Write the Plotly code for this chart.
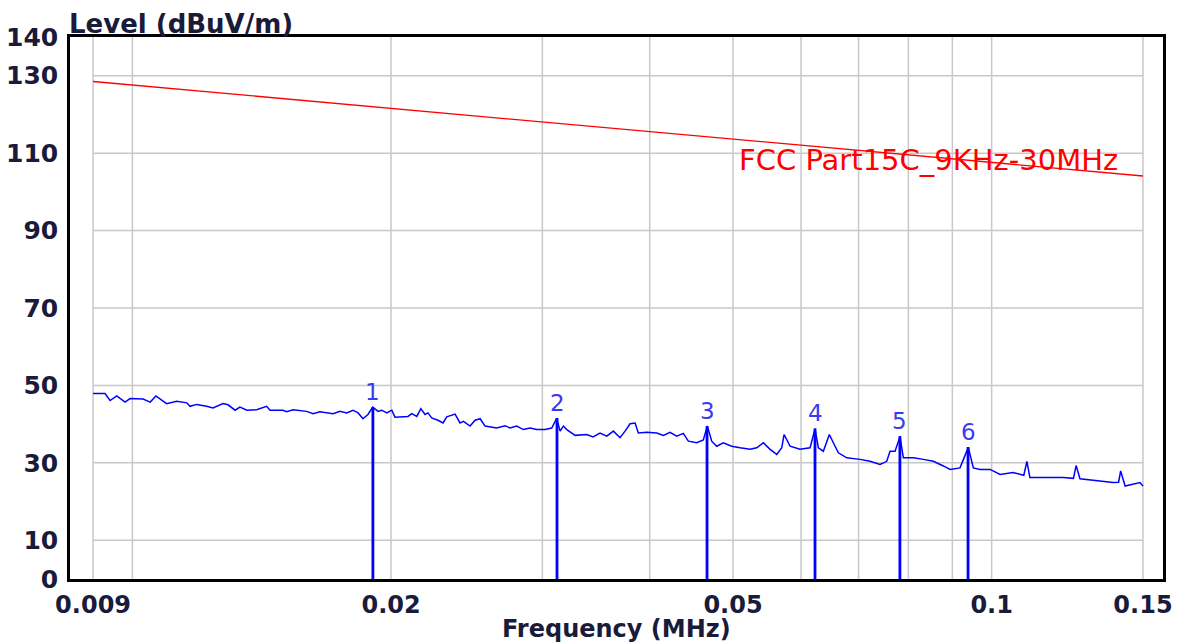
import math
import plotly.graph_objects as go

# ---- data ----
freq_mhz = [0.0090, 0.009294, 0.009419, 0.009590, 0.009806, 0.009938, 0.01029, 0.01049, 0.01065,
            0.01096, 0.01126, 0.01157, 0.01167, 0.01188, 0.01220, 0.01241, 0.01275, 0.01292,
            0.01317, 0.01334, 0.01359, 0.01395, 0.01433, 0.01446, 0.01497, 0.01512, 0.01538,
            0.01595, 0.01623, 0.01653, 0.01712, 0.01744, 0.01776, 0.01806, 0.01831, 0.01855,
            0.01880, 0.01904, 0.01932, 0.01951, 0.01977, 0.02004, 0.02021, 0.02093, 0.02114,
            0.02143, 0.02166, 0.02191, 0.02208, 0.02230, 0.02268, 0.02299, 0.02322, 0.02374,
            0.02406, 0.02428, 0.02472, 0.02505, 0.02539, 0.02573, 0.02655, 0.02715, 0.02751,
            0.02801, 0.02851, 0.02903, 0.02955, 0.03022, 0.03076, 0.03095, 0.03118, 0.03146,
            0.03174, 0.03203, 0.03275, 0.03379, 0.03436, 0.03501, 0.03565, 0.03629, 0.03694,
            0.03744, 0.03795, 0.03846, 0.03880, 0.03968, 0.04076, 0.04149, 0.04224, 0.04300,
            0.04377, 0.04436, 0.04537, 0.04618, 0.04668, 0.04723, 0.04787, 0.04872, 0.04983,
            0.05095, 0.05234, 0.05329, 0.05424, 0.05522, 0.05622, 0.05698, 0.05733, 0.05800,
            0.05826, 0.05984, 0.06147, 0.06230, 0.06285, 0.06370, 0.06473, 0.06543, 0.06631,
            0.06782, 0.07028, 0.07219, 0.07415, 0.07549, 0.07616, 0.07719, 0.07823, 0.07893,
            0.08107, 0.08328, 0.08554, 0.08786, 0.08945, 0.09187, 0.09394, 0.09521, 0.09693,
            0.09957, 0.1023, 0.1059, 0.1090, 0.1099, 0.1108, 0.1159, 0.1212, 0.1245, 0.1254,
            0.1267, 0.1325, 0.1385, 0.1405, 0.1413, 0.1430, 0.1488, 0.1500]
level_dbuv = [47.9, 47.9, 46.1, 47.3, 45.7, 46.6, 46.5, 45.7, 47.3,
              45.3, 45.9, 45.5, 44.6, 45.1, 44.6, 44.2, 45.3, 45.0,
              43.6, 44.4, 43.6, 43.7, 44.6, 43.6, 43.6, 43.2, 43.7,
              43.3, 42.7, 43.2, 42.7, 43.3, 42.9, 43.6, 42.9, 41.4,
              42.5, 44.4, 43.3, 43.6, 42.9, 43.6, 41.8, 42.0, 42.7,
              42.0, 44.0, 42.5, 42.9, 41.6, 41.0, 40.3, 41.9, 42.6,
              40.3, 40.7, 39.5, 41.0, 41.4, 39.5, 39.0, 39.6, 39.0,
              39.5, 38.6, 39.0, 38.6, 38.6, 39.0, 40.3, 41.5, 38.2,
              39.5, 38.6, 37.1, 37.3, 36.7, 37.7, 36.9, 38.2, 36.5,
              38.2, 40.1, 40.3, 37.7, 37.9, 37.7, 37.1, 37.9, 36.9,
              37.6, 35.6, 35.2, 35.9, 39.5, 35.6, 34.3, 35.2, 34.3,
              33.9, 33.5, 33.9, 35.2, 33.5, 32.2, 33.9, 37.3, 35.2,
              34.3, 33.5, 33.9, 38.8, 33.9, 33.0, 37.3, 35.2, 32.6,
              31.3, 30.9, 30.4, 29.6, 30.4, 33.0, 33.0, 36.8, 31.3,
              31.3, 30.9, 30.4, 29.2, 28.3, 28.7, 34.0, 28.7, 28.3,
              28.3, 27.0, 27.5, 26.8, 30.4, 26.2, 26.2, 26.2, 26.0, 29.3,
              25.9, 25.3, 24.9, 25.0, 27.9, 24.0, 24.9, 24.0]

limit_freq = [0.009, 0.15]
limit_level = [128.5, 104.1]
limit_name = "FCC Part15C_9KHz-30MHz"

marker_ids = ["1", "2", "3", "4", "5", "6"]
marker_freq = [0.01905, 0.0312, 0.04664, 0.06229, 0.0782, 0.09387]
marker_level = [44.4, 41.6, 39.5, 38.9, 36.9, 34.1]

x_grid = [0.009, 0.01, 0.02, 0.03, 0.04, 0.05, 0.06, 0.07, 0.08, 0.09, 0.1, 0.15]
x_tickvals = [0.009, 0.02, 0.05, 0.1, 0.15]
x_ticktext = ["0.009", "0.02", "0.05", "0.1", "0.15"]
y_tickvals = [0, 10, 30, 50, 70, 90, 110, 130, 140]
y_grid = [10, 30, 50, 70, 90, 110, 130]

TXT = "#1a1a3a"
FONT = "DejaVu Sans"

fig = go.Figure()

# grid lines (only over the data range, as in the reference)
shapes = []
for gx in x_grid:
    shapes.append(dict(type="line", xref="x", yref="y", x0=gx, x1=gx, y0=0, y1=140,
                       line=dict(color="#c8c8c8", width=1.5), layer="below"))
for gy in y_grid:
    shapes.append(dict(type="line", xref="x", yref="y", x0=x_grid[0], x1=x_grid[-1], y0=gy, y1=gy,
                       line=dict(color="#c8c8c8", width=1.5), layer="below"))

fig.add_trace(go.Scatter(x=limit_freq, y=limit_level, mode="lines",
                         line=dict(color="#ff0000", width=1.3), hoverinfo="skip", showlegend=False))
fig.add_trace(go.Scatter(x=freq_mhz, y=level_dbuv, mode="lines",
                         line=dict(color="#0000ff", width=1.5), showlegend=False))

mx, my = [], []
for f, v in zip(marker_freq, marker_level):
    mx += [f, f, None]
    my += [0, v, None]
fig.add_trace(go.Scatter(x=mx, y=my, mode="lines",
                         line=dict(color="#0000ff", width=2.8), showlegend=False))

annotations = []
for mid, f, v in zip(marker_ids, marker_freq, marker_level):
    annotations.append(dict(x=math.log10(f), y=v, xref="x", yref="y", text=mid, showarrow=False,
                            yanchor="bottom", yshift=0,
                            font=dict(family=FONT, size=23, color="#3a3af0")))
annotations.append(dict(x=0.785, y=0.773, xref="paper", yref="paper", text=limit_name,
                        showarrow=False, xanchor="center", yanchor="middle",
                        font=dict(family=FONT, size=29, color="#ff0000")))
annotations.append(dict(x=0, y=1, xref="paper", yref="paper", text="Level (dBuV/m)",
                        showarrow=False, xanchor="left", yanchor="bottom", yshift=-4, xshift=-3,
                        font=dict(family=FONT, size=26, color=TXT, weight="bold")))
annotations.append(dict(x=0.5, y=0, xref="paper", yref="paper", text="Frequency (MHz)",
                        showarrow=False, xanchor="center", yanchor="middle", yshift=-50,
                        font=dict(family=FONT, size=24, color=TXT, weight="bold")))

fig.update_layout(
    width=1184, height=644,
    margin=dict(l=70, r=21, t=37, b=65, autoexpand=False),
    paper_bgcolor="white", plot_bgcolor="white",
    shapes=shapes, annotations=annotations,
    xaxis=dict(type="log", range=[-2.0726, -0.8006], tickvals=x_tickvals, ticktext=x_ticktext,
               showgrid=False, zeroline=False, showline=True, mirror=True, automargin=False,
               linecolor="black", linewidth=2.5, ticks="", ticklabelstandoff=2,
               tickfont=dict(family=FONT, size=24, color=TXT, weight="bold")),
    yaxis=dict(range=[0, 140], tickvals=y_tickvals, showgrid=False, zeroline=False,
               showline=True, mirror=True, linecolor="black", linewidth=2.5, ticks="",
               ticklabelstandoff=4, automargin=False,
               tickfont=dict(family=FONT, size=25, color=TXT, weight="bold")),
)

fig.write_html("out.html", config={"displayModeBar": False},
               post_script="document.body.style.margin='0px';document.body.style.overflow='hidden';")
